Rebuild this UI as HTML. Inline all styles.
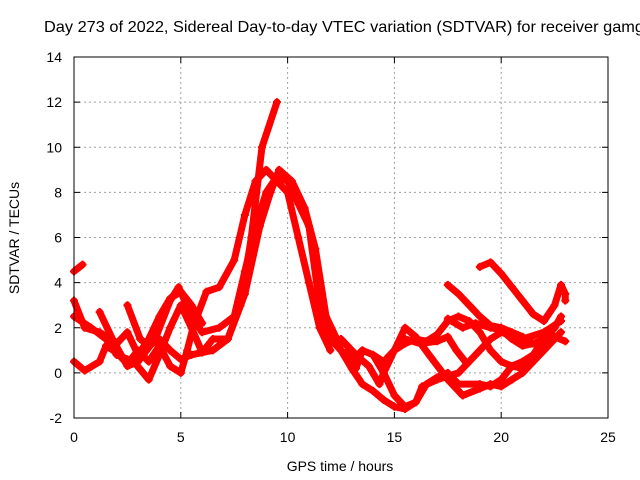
<!DOCTYPE html>
<html><head><meta charset="utf-8"><style>
body{margin:0;background:#fff}
svg{display:block;font-family:"Liberation Sans",sans-serif;font-size:14px}
</style></head><body>
<svg id="chart" width="640" height="480" viewBox="0 0 640 480">
<text x="44" y="32" font-size="16" textLength="600" lengthAdjust="spacingAndGlyphs">Day 273 of 2022, Sidereal Day-to-day VTEC variation (SDTVAR) for receiver gamg</text>
<g id="grid"></g>
<g id="series"></g>
<rect x="74" y="57" width="534" height="361" fill="none" stroke="#000" stroke-width="1"/>
<g id="ticks"></g>
<text x="340" y="471" text-anchor="middle">GPS time / hours</text>
<text x="0" y="0" transform="translate(19,238) rotate(-90)" text-anchor="middle">SDTVAR / TECUs</text>
</svg>
<script>
const xTicks=[0,5,10,15,20,25];
const yTicks=[-2,0,2,4,6,8,10,12,14];
const trackA=[[0,4.5],[0.4,4.8]];
const trackB=[[0,3.2],[0.5,2],[1.2,1.8],[2,1.3],[2.5,1.8],[3,0.8],[3.5,1.5],[4,2.5],[4.5,3.3],[5,3.6],[5.5,3],[6,2.2]];
const trackC=[[0,2.5],[0.8,2],[1.5,1.5],[2,0.8],[2.8,0.5],[3.5,-0.3],[4,0.8],[4.5,2],[5,3],[5.5,2],[6,0.9],[6.5,1.5],[7.2,1.5],[7.8,3],[8.3,6],[8.8,10],[9.5,12]];
const trackD=[[0,0.5],[0.5,0.1],[1.2,0.5],[1.5,1.2],[2,0.9],[2.5,0.4],[3,1],[3.5,0.5],[4,1.2],[4.5,0.3],[5,0],[5.3,1],[5.6,2.1],[6.2,3.6],[6.8,3.8],[7.5,5],[8,7],[8.5,8.5],[9,9],[9.5,8.5],[10,8],[10.5,6],[11,4],[11.5,2],[12,1]];
const trackE=[[1.2,2.7],[1.8,1.5],[2.5,0.3],[3,0.5],[3.8,1.5],[4.5,3.2],[4.9,3.8],[5.5,2.5],[6,1.8],[6.8,2],[7.5,2.5],[8,4.5],[8.5,6.5],[9,8],[9.5,8.7],[10,8.5],[10.5,7.5],[11,6.5],[11.5,3],[12,1.5],[12.5,1],[13,0.5],[13.5,1]];
const trackF=[[2.5,3],[3.1,1.5],[3.5,1.2],[4,1.5],[4.5,1],[5,0.6],[5.5,0.8],[6.5,1],[7.2,1.5],[8,3.5],[8.7,6.5],[9.2,8],[9.6,9],[10.2,8.5],[10.8,7.3],[11.3,5.5],[11.8,2.5],[12.3,1.5],[12.8,1.2],[13.2,0.2],[13.5,1],[14,0.8],[14.5,0],[15,-1],[15.5,-1.5],[16,-1.3],[16.5,-0.5],[17,-0.2],[17.5,0],[18,-0.5],[19,-0.5],[19.5,-0.6],[20,-0.3],[20.5,0.3],[21,0.5],[21.5,0.8],[22,1.5],[22.5,2],[22.8,2.5]];
const trackG=[[12,1.8],[12.5,1],[13,0.2],[13.5,-0.5],[14,-0.8],[14.5,-1.2],[15,-1.5],[15.5,-1.6],[16,-1.3],[16.3,-0.6],[17,-0.3],[18,0],[18.5,0.5],[19,1],[19.5,1.5],[20,1.8],[21,1.5],[22,1.8],[22.8,2.3]];
const trackH=[[12.5,1.5],[13.2,0.8],[13.8,0.3],[14.3,-0.5],[14.5,0],[15,1],[15.5,2],[16,1.6],[16.7,0.7],[17.5,-0.3],[18.2,-1],[19,-0.7],[19.5,-0.5],[20,-0.6],[20.5,-0.3],[21,0],[21.5,0.5],[22,1],[22.5,1.5],[22.8,1.8]];
const trackI=[[14,0.8],[14.5,0.5],[15,1],[15.5,1.3],[16,1.5],[16.5,1.4],[17,1.7],[17.5,2.3],[18,2.5],[18.5,2.3],[19,1.8],[19.5,1],[20,0.5],[20.5,0.3],[21,0.2],[21.5,0.6]];
const trackJ=[[15.5,1.5],[16.2,1.3],[17,1.4],[17.5,1.6],[17.9,1.0],[18.4,0.4]];
const trackK=[[17.5,3.9],[18,3.5],[18.5,3],[19,2.5],[19.5,2.1],[20,2],[20.5,1.8],[21,1.6],[21.5,1.3],[22,1.5],[22.5,2]];
const trackL=[[19,4.7],[19.5,4.9],[20,4.4],[20.5,3.8],[21,3.2],[21.5,2.6],[22,2.3],[22.5,3],[22.8,3.9],[23,3.5],[23,3.2]];
const trackM=[[17.5,2.4],[18.2,2],[18.8,2.2],[19.5,2],[20,1.9],[20.5,1.5],[21,1.2],[21.5,1.3],[22,1.2],[22.5,1.6],[23,1.4]];
const tracks=[trackA,trackB,trackC,trackD,trackE,trackF,trackG,trackH,trackI,trackJ,trackK,trackL,trackM];

const L=74,R=608,T=57,B=418;
const sx=v=>L+(v-0)/(25-0)*(R-L);
const sy=v=>B-(v+2)/(14+2)*(B-T);
const NS="http://www.w3.org/2000/svg";
const grid=document.getElementById('grid'),ticks=document.getElementById('ticks'),ser=document.getElementById('series');
function mk(tag,attrs,parent){const e=document.createElementNS(NS,tag);for(const k in attrs)e.setAttribute(k,attrs[k]);parent.appendChild(e);return e;}
xTicks.forEach(t=>{
  const x=sx(t);
  if(t>0&&t<25){const g=mk('line',{x1:x,x2:x,y1:T,y2:B,stroke:'#a0a0a0','stroke-dasharray':'2,3'},grid);
  
  }
  mk('line',{x1:x,x2:x,y1:B,y2:B-6,stroke:'#000'},ticks);
  mk('line',{x1:x,x2:x,y1:T,y2:T+6,stroke:'#000'},ticks);
  const tx=mk('text',{x:x,y:B+24,'text-anchor':'middle'},ticks);tx.textContent=t;
  
  
});
yTicks.forEach(t=>{
  const y=sy(t);
  if(t>-2&&t<14){const g=mk('line',{x1:L,x2:R,y1:y,y2:y,stroke:'#a0a0a0','stroke-dasharray':'2,3'},grid);
  
  }
  mk('line',{x1:L,x2:L+6,y1:y,y2:y,stroke:'#000'},ticks);
  mk('line',{x1:R,x2:R-6,y1:y,y2:y,stroke:'#000'},ticks);
  const tx=mk('text',{x:L-12,y:y+5,'text-anchor':'end'},ticks);tx.textContent=t;
  
  
});
tracks.forEach((tr,i)=>{
  const pts=tr.map(p=>sx(p[0])+','+sy(p[1])).join(' ');
  const pl=mk('polyline',{points:pts,fill:'none',stroke:'#ff0000','stroke-width':7,'stroke-linejoin':'round','stroke-linecap':'round'},ser);
  
  
  tr.forEach(p=>{
    const x=sx(p[0]),y=sy(p[1]);
    const m=mk('path',{d:`M${x-4},${y}H${x+4}M${x},${y-4}V${y+4}`,stroke:'#ff0000','stroke-width':2},ser);
    
    
  });
});
</script>
</body></html>
